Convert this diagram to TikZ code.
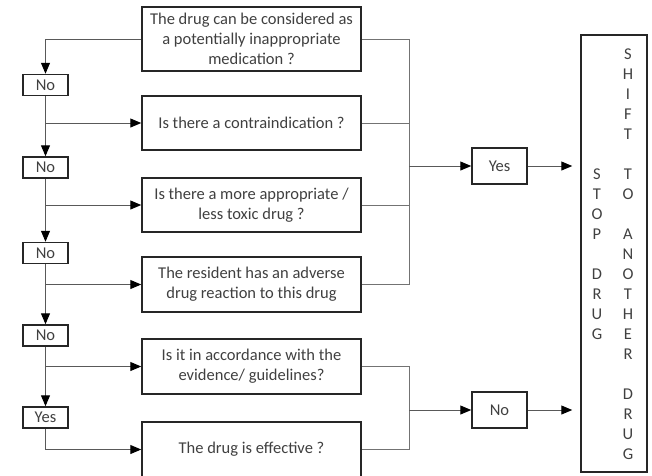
\documentclass[tikz,border=0pt]{standalone}
\usepackage{fontspec}
\setmainfont{Carlito}
\usetikzlibrary{arrows.meta,calc}
\begin{document}
\begin{tikzpicture}[x=1pt,y=-1pt,
  font=\fontsize{16.5}{20}\selectfont,
  box/.style={draw=black!85,line width=1.5pt,fill=white,text=black!75,
    align=center,inner sep=0pt,minimum width=#1},
  qbox/.style={box=219pt},
  tagbox/.style={box=45pt,minimum height=21pt},
  outbox/.style={box=55pt,minimum height=36pt},
  link/.style={draw=black!55,line width=1pt},
  arrowlink/.style={draw=black!65,line width=1pt,
    -{Triangle[length=11pt,width=9pt,color=black]}}
]
\useasboundingbox (0,0) rectangle (652,475);

% question boxes
\node[qbox,minimum height=64pt] (q1) at (251.5,39)
  {The drug can be considered as\\a potentially inappropriate\\medication ?};
\node[qbox,minimum height=54pt] (q2) at (251.5,123) {Is there a contraindication ?};
\node[qbox,minimum height=54pt] (q3) at (251.5,205)
  {Is there a more appropriate /\\less toxic drug ?};
\node[qbox,minimum height=55pt] (q4) at (251.5,284.5)
  {The resident has an adverse\\drug reaction to this drug};
\node[qbox,minimum height=55pt] (q5) at (251.5,366.5)
  {Is it in accordance with the\\evidence/ guidelines?};
\node[qbox,minimum height=55pt] (q6) at (251.5,449.5) {The drug is effective ?};

% answer tags on the left
\node[tagbox] (n1) at (45.5,85) {No};
\node[tagbox] (n2) at (45.5,167.5) {No};
\node[tagbox] (n3) at (45.5,253) {No};
\node[tagbox] (n4) at (45.5,335.5) {No};
\node[tagbox] (y5) at (45.5,417.5) {Yes};

% outcome tags
\node[outbox] (yes) at (499.5,166) {Yes};
\node[outbox] (no) at (499.5,410) {No};

% final action box
\node[draw=black!85,line width=1.5pt,minimum width=66pt,minimum height=437pt,inner sep=0pt]
  (act) at (614,253.5) {};
\node[text=black!75,align=center,inner sep=0pt] (stopcol) at (597,255)
  {\strut S\\\strut T\\\strut O\\\strut P\\\strut\\\strut D\\\strut R\\\strut U\\\strut G};
\node[text=black!75,align=center,inner sep=0pt] (shiftcol) at (628,255)
  {\strut S\\\strut H\\\strut I\\\strut F\\\strut T\\\strut\\\strut T\\\strut O\\\strut\\%
   \strut A\\\strut N\\\strut O\\\strut T\\\strut H\\\strut E\\\strut R\\\strut\\%
   \strut D\\\strut R\\\strut U\\\strut G};

% left chain
\draw[arrowlink] (q1.west) -| (n1.north);
\draw[arrowlink] (n1.south) -- (n2.north);
\draw[arrowlink] (n1.south |- q2.west) -- (q2.west);
\draw[arrowlink] (n2.south) -- (n3.north);
\draw[arrowlink] (n2.south |- q3.west) -- (q3.west);
\draw[arrowlink] (n3.south) -- (n4.north);
\draw[arrowlink] (n3.south |- q4.west) -- (q4.west);
\draw[arrowlink] (n4.south) -- (y5.north);
\draw[arrowlink] (n4.south |- q5.west) -- (q5.west);
\draw[arrowlink] (y5.south) |- (q6.west);

% right collectors
\coordinate (jx) at (409,0);
\draw[link] (q1.east) -- (q1.east -| jx) -- (q4.east -| jx) -- (q4.east);
\draw[link] (q2.east) -- (q2.east -| jx);
\draw[link] (q3.east) -- (q3.east -| jx);
\draw[arrowlink] (yes.west -| jx) -- (yes.west);
\draw[arrowlink,shorten >=8pt] (yes.east) -- (yes.east -| act.west);

\draw[link] (q5.east) -- (q5.east -| jx) -- (q6.east -| jx) -- (q6.east);
\draw[arrowlink] (no.west -| jx) -- (no.west);
\draw[arrowlink,shorten >=8pt] (no.east) -- (no.east -| act.west);
\end{tikzpicture}
\end{document}
